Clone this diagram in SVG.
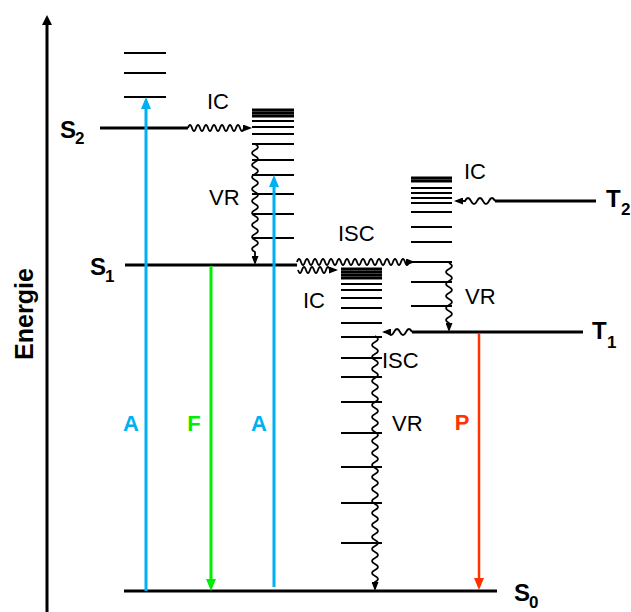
<svg xmlns="http://www.w3.org/2000/svg" width="631" height="612" viewBox="0 0 631 612">
<style>
.lvl{stroke:#000;stroke-width:3;fill:none}
.vib{stroke:#000;stroke-width:2;fill:none}
.blk{stroke:#000;stroke-width:3;fill:none}
.wave{fill:none;stroke:#000;stroke-width:1.8;marker-end:url(#ah)}
.lbl{font-family:"Liberation Sans",Arial,sans-serif;font-size:22px;fill:#000}
.st{font-family:"Liberation Sans",Arial,sans-serif;font-weight:bold;font-size:24px;fill:#000}
.sub{font-size:17px}
.cl{font-family:"Liberation Sans",Arial,sans-serif;font-weight:bold;font-size:22px;text-anchor:middle}
.blue{stroke:#00b0f0;stroke-width:3;fill:none;marker-end:url(#ahb)}
.green{stroke:#00ee00;stroke-width:3;fill:none;marker-end:url(#ahg)}
.red{stroke:#ff3300;stroke-width:2.5;fill:none;marker-end:url(#ahr)}
</style>
<defs>
<marker id="ah" markerUnits="userSpaceOnUse" markerWidth="9" markerHeight="7" refX="7" refY="3.5" orient="auto"><path d="M0,0L9,3.5L0,7z" fill="#000"/></marker>
<marker id="ahx" markerUnits="userSpaceOnUse" markerWidth="10" markerHeight="10" refX="6" refY="5" orient="auto"><path d="M0,0L10,5L0,10z" fill="#000"/></marker>
<marker id="ahb" markerUnits="userSpaceOnUse" markerWidth="12" markerHeight="10" refX="8" refY="5" orient="auto"><path d="M0,0L12,5L0,10z" fill="#00b0f0"/></marker>
<marker id="ahg" markerUnits="userSpaceOnUse" markerWidth="12" markerHeight="10" refX="8" refY="5" orient="auto"><path d="M0,0L12,5L0,10z" fill="#00ee00"/></marker>
<marker id="ahr" markerUnits="userSpaceOnUse" markerWidth="12" markerHeight="10" refX="8" refY="5" orient="auto"><path d="M0,0L12,5L0,10z" fill="#ff3300"/></marker>
</defs>
<rect width="631" height="612" fill="#fff"/>

<g id="axis">
<line x1="47" y1="612" x2="47" y2="19" stroke="#000" stroke-width="3" marker-end="url(#ahx)"/>
<text transform="translate(33,314) rotate(-90)" font-family="Liberation Sans,Arial,sans-serif" font-weight="bold" font-size="26" text-anchor="middle" textLength="92" lengthAdjust="spacingAndGlyphs">Energie</text>
</g>

<g id="S2-vib">
<line class="vib" x1="124" y1="53" x2="166" y2="53"/>
<line class="vib" x1="124" y1="73" x2="166" y2="73"/>
<line class="vib" x1="124" y1="97" x2="166" y2="97"/>
</g>

<g id="S2">
<line class="lvl" x1="100" y1="128" x2="188" y2="128"/>
<text class="st"><tspan x="60" y="138">S</tspan><tspan class="sub" x="75" y="144">2</tspan></text>
</g>

<g id="S1-vib">
<line class="blk" x1="252" y1="110" x2="294" y2="110"/>
<line class="blk" x1="252" y1="113" x2="294" y2="113"/>
<line class="blk" x1="252" y1="116" x2="294" y2="116"/>
<line class="vib" x1="252" y1="121" x2="294" y2="121"/>
<line class="vib" x1="252" y1="127" x2="294" y2="127"/>
<line class="vib" x1="252" y1="134" x2="294" y2="134"/>
<line class="vib" x1="252" y1="144" x2="294" y2="144"/>
<line class="vib" x1="252" y1="160" x2="294" y2="160"/>
<line class="vib" x1="252" y1="175" x2="294" y2="175"/>
<line class="vib" x1="252" y1="194" x2="294" y2="194"/>
<line class="vib" x1="252" y1="214" x2="294" y2="214"/>
<line class="vib" x1="252" y1="238" x2="294" y2="238"/>
</g>

<g id="S1">
<line class="lvl" x1="125" y1="265" x2="297" y2="265"/>
<text class="st"><tspan x="90" y="275">S</tspan><tspan class="sub" x="105" y="282">1</tspan></text>
</g>

<g id="S0-vib">
<line class="blk" x1="341" y1="269" x2="382" y2="269"/>
<line class="blk" x1="341" y1="272" x2="382" y2="272"/>
<line class="blk" x1="341" y1="275" x2="382" y2="275"/>
<line class="blk" x1="341" y1="278" x2="382" y2="278"/>
<line class="vib" x1="341" y1="284" x2="382" y2="284"/>
<line class="vib" x1="341" y1="290" x2="382" y2="290"/>
<line class="vib" x1="341" y1="298" x2="382" y2="298"/>
<line class="vib" x1="341" y1="308" x2="382" y2="308"/>
<line class="vib" x1="341" y1="323" x2="382" y2="323"/>
<line class="vib" x1="341" y1="337" x2="382" y2="337"/>
<line class="vib" x1="341" y1="358" x2="382" y2="358"/>
<line class="vib" x1="341" y1="377" x2="382" y2="377"/>
<line class="vib" x1="341" y1="402" x2="382" y2="402"/>
<line class="vib" x1="341" y1="433" x2="382" y2="433"/>
<line class="vib" x1="341" y1="467" x2="382" y2="467"/>
<line class="vib" x1="341" y1="503" x2="382" y2="503"/>
<line class="vib" x1="341" y1="543" x2="382" y2="543"/>
</g>

<g id="S0">
<line class="lvl" x1="124" y1="591" x2="497" y2="591"/>
<text class="st"><tspan x="514" y="601">S</tspan><tspan class="sub" x="529" y="608">0</tspan></text>
</g>

<g id="T1-vib">
<line class="blk" x1="411" y1="178" x2="452" y2="178"/>
<line class="blk" x1="411" y1="181" x2="452" y2="181"/>
<line class="vib" x1="411" y1="188" x2="452" y2="188"/>
<line class="vib" x1="411" y1="193" x2="452" y2="193"/>
<line class="vib" x1="411" y1="198" x2="452" y2="198"/>
<line class="vib" x1="411" y1="203" x2="452" y2="203"/>
<line class="vib" x1="411" y1="212" x2="452" y2="212"/>
<line class="vib" x1="411" y1="227" x2="452" y2="227"/>
<line class="vib" x1="411" y1="242" x2="452" y2="242"/>
<line class="vib" x1="411" y1="262" x2="452" y2="262"/>
<line class="vib" x1="411" y1="282" x2="452" y2="282"/>
<line class="vib" x1="411" y1="306" x2="452" y2="306"/>
</g>

<g id="T1">
<line class="lvl" x1="412" y1="332" x2="583" y2="332"/>
<text class="st"><tspan x="592" y="339">T</tspan><tspan class="sub" x="607" y="348">1</tspan></text>
</g>

<g id="T2">
<line class="lvl" x1="495" y1="201" x2="596" y2="201"/>
<text class="st"><tspan x="606" y="207">T</tspan><tspan class="sub" x="621" y="215">2</tspan></text>
</g>

<g id="connectors">
<line class="blue" x1="146" y1="591" x2="146" y2="101"/>
<line class="blue" x1="274" y1="587" x2="274" y2="179"/>
<line class="green" x1="211" y1="266" x2="211" y2="587"/>
<line class="red" x1="479" y1="333" x2="479" y2="586"/>
<path class="wave" d="M188,128q2,-6 4,0t4,0t4,0t4,0t4,0t4,0t4,0t4,0t4,0t4,0t4,0t4,0t4,0t4,0h6"/>
<path class="wave" d="M297,262q2,-6 4,0t4,0t4,0t4,0t4,0t4,0t4,0t4,0t4,0t4,0t4,0t4,0t4,0t4,0t4,0t4,0t4,0t4,0t4,0t4,0t4,0t4,0t4,0t4,0t4,0t4,0t4,0t4,0h4"/>
<path class="wave" d="M298,270q2,6 4,0t4,0t4,0t4,0t4,0t4,0t4,0t4,0h6"/>
<path class="wave" d="M495,201q-3,-6 -6,0t-6,0t-6,0t-6,0t-6,0h-9"/>
<path class="wave" d="M412,332q-3,-6 -6,0t-6,0t-6,0t-6,0h-4"/>
<path class="wave" d="M255,144q6,3 0,6t0,6t0,6t0,6t0,6t0,6t0,6t0,6t0,6t0,6t0,6t0,6t0,6t0,6t0,6t0,6t0,6t0,6v11"/>
<path class="wave" d="M449,263q6,3 0,6t0,6t0,6t0,6t0,6t0,6t0,6t0,6t0,6t0,6v7"/>
<path class="wave" d="M375,336q6,3 0,6t0,6t0,6t0,6t0,6t0,6t0,6t0,6t0,6t0,6t0,6t0,6t0,6t0,6t0,6t0,6t0,6t0,6t0,6t0,6t0,6t0,6t0,6t0,6t0,6t0,6t0,6t0,6t0,6t0,6t0,6t0,6t0,6t0,6t0,6t0,6t0,6t0,6t0,6t0,6t0,6v7"/>
</g>

<g id="labels">
<text class="lbl" x="207" y="109">IC</text>
<text class="lbl" x="209" y="205">VR</text>
<text class="lbl" x="338" y="241">ISC</text>
<text class="lbl" x="303" y="308">IC</text>
<text class="lbl" x="464" y="179">IC</text>
<text class="lbl" x="465" y="304">VR</text>
<text class="lbl" x="382" y="368">ISC</text>
<text class="lbl" x="392" y="431">VR</text>
<text class="cl" x="131" y="431" fill="#00b0f0">A</text>
<text class="cl" x="194" y="431" fill="#00ee00">F</text>
<text class="cl" x="259" y="431" fill="#00b0f0">A</text>
<text class="cl" x="462" y="430" fill="#ff3300">P</text>
</g>
</svg>
